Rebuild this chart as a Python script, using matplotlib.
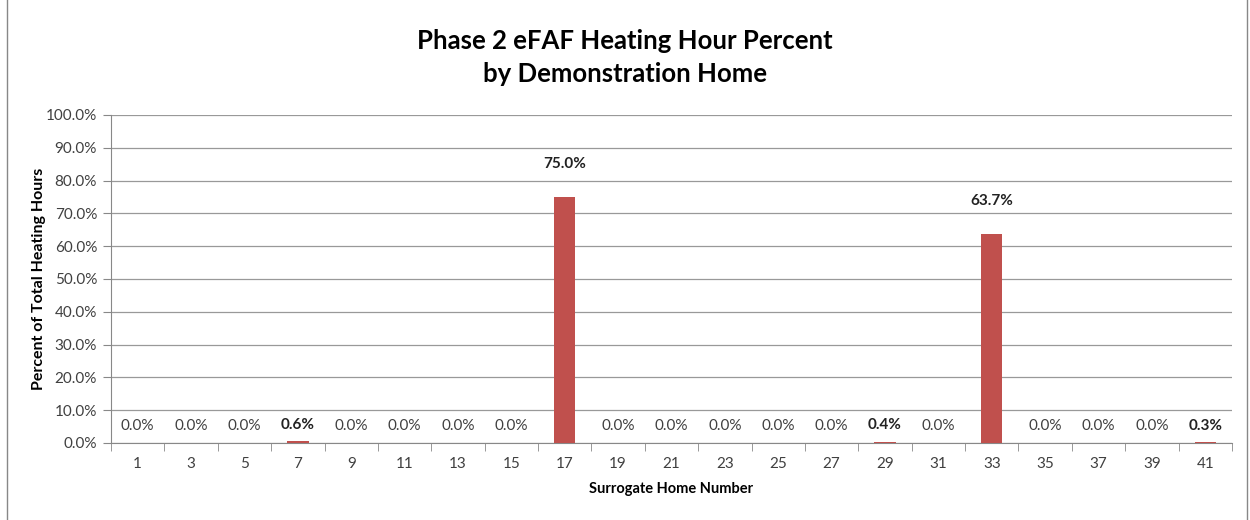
import matplotlib.pyplot as plt
from matplotlib.patches import Rectangle
import numpy as np

# surrogate homes and their share of heating hours (%)
homes = ['1', '3', '5', '7', '9', '11', '13', '15', '17', '19', '21',
         '23', '25', '27', '29', '31', '33', '35', '37', '39', '41']
percent = [0.0, 0.0, 0.0, 0.6, 0.0, 0.0, 0.0, 0.0, 75.0, 0.0, 0.0,
           0.0, 0.0, 0.0, 0.4, 0.0, 63.7, 0.0, 0.0, 0.0, 0.3]

plt.rcParams['font.family'] = ['Lato', 'DejaVu Sans']

fig = plt.figure(figsize=(12.5, 5.2), dpi=100)
ax = fig.add_axes([111/1250, 1-443/520, (1232-111)/1250, (443-115)/520])

x = np.arange(len(homes))
ax.bar(x, percent, width=0.4, color='#C0504D', zorder=3)

ax.set_xlim(-0.5, len(homes) - 0.5)
ax.set_ylim(0, 100)
ax.set_yticks(np.arange(0, 101, 10))
ax.set_yticklabels([f'{v:.1f}%' for v in np.arange(0, 101, 10)], fontsize=11, color='#404040')
ax.set_xticks(x)
ax.set_xticklabels(homes, fontsize=11, color='#404040')
ax.tick_params(axis='x', length=0, pad=10)
ax.set_xticks(np.arange(-0.5, len(homes)), minor=True)
ax.tick_params(axis='x', which='minor', length=6, color='#888888')
ax.tick_params(axis='y', length=6, color='#888888', pad=4)

ax.grid(axis='y', color='#999999', linewidth=0.9, zorder=0)
for s in ['top', 'right']:
    ax.spines[s].set_visible(False)
ax.spines['left'].set_color('#888888')
ax.spines['bottom'].set_color('#888888')

for xi, v in zip(x, percent):
    if v > 0:
        off = 10 if v > 1 else 5
        ax.text(xi, v + off, f'{v:.1f}%', ha='center', va='center',
                fontsize=11, fontweight='bold', color='#222222')
    else:
        ax.text(xi, 5.2, f'{v:.1f}%', ha='center', va='center',
                fontsize=11, color='#404040')

ax.set_xlabel('Surrogate Home Number', fontsize=10.5, fontweight='bold', labelpad=8)
ax.set_ylabel('Percent of Total Heating Hours', fontsize=11.5, fontweight='bold')
ax.yaxis.set_label_coords(-0.058, 0.5)

fig.suptitle('Phase 2 eFAF Heating Hour Percent\nby Demonstration Home',
             fontsize=18.5, fontweight='bold', y=0.945, linespacing=1.45)

# outer chart frame
fig.patches.append(Rectangle((7/1250, -0.01), 1240/1250, 1.02, transform=fig.transFigure,
                             fill=False, edgecolor='#888888', linewidth=1))

fig.savefig('out.png')
